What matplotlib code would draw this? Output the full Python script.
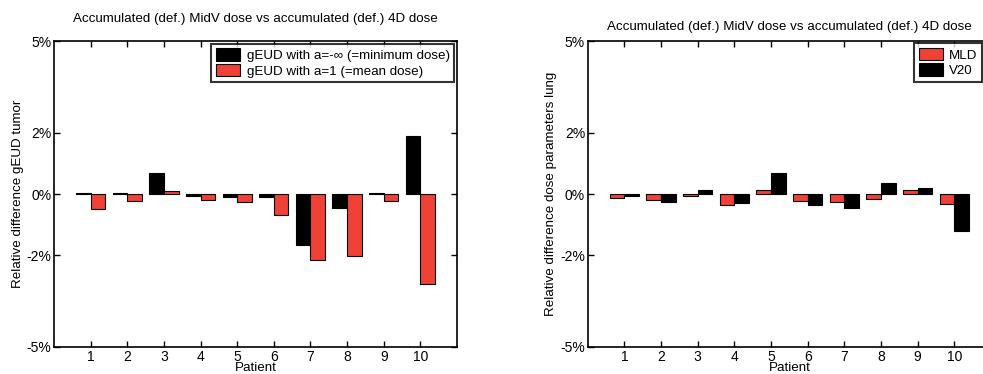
import numpy as np
import matplotlib
matplotlib.use("Agg")
import matplotlib.pyplot as plt

plt.rcParams['font.family'] = ['Liberation Sans', 'DejaVu Sans']

patients = [1, 2, 3, 4, 5, 6, 7, 8, 9, 10]

# tumour gEUD, relative difference in %
geud_min = [0.03, 0.02, 0.70, -0.08, -0.10, -0.11, -1.67, -0.46, 0.03, 1.91]
geud_mean = [-0.49, -0.22, 0.09, -0.19, -0.27, -0.67, -2.15, -2.02, -0.23, -2.95]

# lung dose parameters, relative difference in %
mld = [-0.13, -0.21, -0.08, -0.35, 0.13, -0.22, -0.25, -0.17, 0.13, -0.33]
v20 = [-0.08, -0.25, 0.13, -0.30, 0.68, -0.37, -0.45, 0.35, 0.20, -1.21]

yticks = [-5, -2, 0, 2, 5]
ytick_labels = ['-5%', '-2%', '0%', '2%', '5%']
title = 'Accumulated (def.) MidV dose vs accumulated (def.) 4D dose'

red = '#ef4136'
fs = 9.6
tfs = 10

fig = plt.figure(figsize=(9.83, 3.74), dpi=100)
ax1 = fig.add_axes([0.0549, 0.0722, 0.41, 0.818])
ax2 = fig.add_axes([0.598, 0.0722, 0.41, 0.818])

x = np.array(patients)
w = 0.4


def style(ax, ylabel, pad):
    ax.set_xlim(0, 11)
    ax.set_ylim(-5, 5)
    ax.set_xticks(patients)
    ax.set_xticklabels([str(p) for p in patients], fontsize=tfs)
    ax.set_yticks(yticks)
    ax.set_yticklabels(ytick_labels, fontsize=tfs)
    ax.tick_params(direction='in', top=True, right=True, length=4, width=1, pad=2)
    ax.tick_params(axis='x', pad=2)
    for s in ax.spines.values():
        s.set_linewidth(1.2)
    ax.set_xlabel('Patient', fontsize=fs, labelpad=-1)
    ax.set_ylabel(ylabel, fontsize=fs, labelpad=2)
    ax.set_title(title, fontsize=fs, pad=pad)


def legend(ax, **kw):
    leg = ax.legend(fontsize=fs, frameon=True, fancybox=False,
                    borderpad=0.35, handlelength=1.8, handleheight=1.1,
                    labelspacing=0.1, handletextpad=0.5, **kw)
    leg.get_frame().set_edgecolor('black')
    leg.get_frame().set_linewidth(1.5)
    return leg


ax1.bar(x - w / 2, geud_min, w, color='black', edgecolor='black', linewidth=0.8,
        label='gEUD with a=-\u221e (=minimum dose)')
ax1.bar(x + w / 2, geud_mean, w, color=red, edgecolor='black', linewidth=0.8,
        label='gEUD with a=1 (=mean dose)')
style(ax1, 'Relative difference gEUD tumor', 14)
legend(ax1, loc='upper right', borderaxespad=0.2)

ax2.bar(x - w / 2, mld, w, color=red, edgecolor='black', linewidth=0.8, label='MLD')
ax2.bar(x + w / 2, v20, w, color='black', edgecolor='black', linewidth=0.8, label='V20')
style(ax2, 'Relative difference dose parameters lung', 8)
legend(ax2, loc='upper left', bbox_to_anchor=(914 / 983, 1 - 43 / 374),
       bbox_transform=fig.transFigure, borderaxespad=0)

fig.savefig('out.png', dpi=100)
